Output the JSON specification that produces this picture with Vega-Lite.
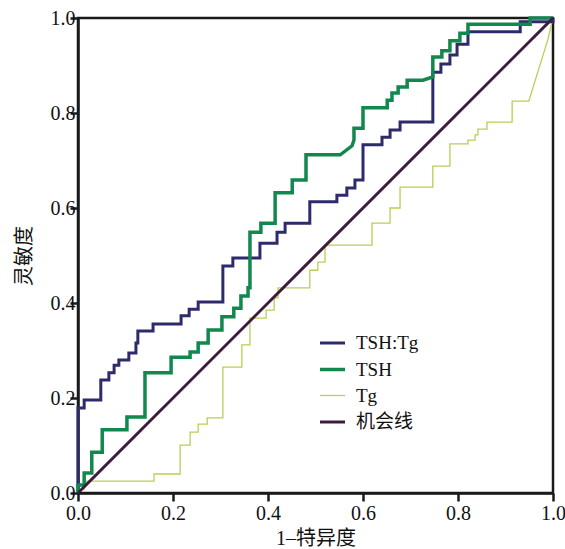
{
  "$schema": "https://vega.github.io/schema/vega-lite/v6.json",
  "width": 475,
  "height": 475,
  "autosize": {"type": "none"},
  "padding": {"left": 78, "top": 18, "right": 12, "bottom": 56},
  "background": "white",
  "config": {
    "view": {"stroke": "#1a1a1a", "strokeWidth": 2.5},
    "axis": {"grid": false, "domainColor": "#1a1a1a", "domainWidth": 2.5, "tickColor": "#1a1a1a", "tickWidth": 2.5, "tickSize": 8, "labelFlush": false, "labelFont": "Liberation Serif", "labelFontSize": 20, "labelColor": "#111", "titleFont": "Liberation Serif, Noto Sans CJK SC", "titleFontSize": 20, "titleFontWeight": "normal", "titleColor": "#111"}
  },
  "data": {"values": [
    {"s":"TSH:Tg","i":0,"x":0,"y":0},{"s":"TSH:Tg","i":1,"x":0,"y":0.179},{"s":"TSH:Tg","i":2,"x":0.013,"y":0.179},{"s":"TSH:Tg","i":3,"x":0.013,"y":0.196},{"s":"TSH:Tg","i":4,"x":0.048,"y":0.196},{"s":"TSH:Tg","i":5,"x":0.048,"y":0.238},{"s":"TSH:Tg","i":6,"x":0.065,"y":0.238},{"s":"TSH:Tg","i":7,"x":0.065,"y":0.253},{"s":"TSH:Tg","i":8,"x":0.076,"y":0.253},{"s":"TSH:Tg","i":9,"x":0.076,"y":0.269},{"s":"TSH:Tg","i":10,"x":0.086,"y":0.269},{"s":"TSH:Tg","i":11,"x":0.086,"y":0.28},{"s":"TSH:Tg","i":12,"x":0.107,"y":0.28},{"s":"TSH:Tg","i":13,"x":0.107,"y":0.295},{"s":"TSH:Tg","i":14,"x":0.122,"y":0.295},{"s":"TSH:Tg","i":15,"x":0.122,"y":0.316},{"s":"TSH:Tg","i":16,"x":0.126,"y":0.316},{"s":"TSH:Tg","i":17,"x":0.126,"y":0.341},{"s":"TSH:Tg","i":18,"x":0.158,"y":0.341},{"s":"TSH:Tg","i":19,"x":0.158,"y":0.356},{"s":"TSH:Tg","i":20,"x":0.217,"y":0.356},{"s":"TSH:Tg","i":21,"x":0.217,"y":0.373},{"s":"TSH:Tg","i":22,"x":0.234,"y":0.373},{"s":"TSH:Tg","i":23,"x":0.234,"y":0.387},{"s":"TSH:Tg","i":24,"x":0.253,"y":0.387},{"s":"TSH:Tg","i":25,"x":0.253,"y":0.402},{"s":"TSH:Tg","i":26,"x":0.305,"y":0.402},{"s":"TSH:Tg","i":27,"x":0.305,"y":0.478},{"s":"TSH:Tg","i":28,"x":0.326,"y":0.478},{"s":"TSH:Tg","i":29,"x":0.326,"y":0.495},{"s":"TSH:Tg","i":30,"x":0.383,"y":0.495},{"s":"TSH:Tg","i":31,"x":0.383,"y":0.526},{"s":"TSH:Tg","i":32,"x":0.419,"y":0.526},{"s":"TSH:Tg","i":33,"x":0.419,"y":0.549},{"s":"TSH:Tg","i":34,"x":0.436,"y":0.549},{"s":"TSH:Tg","i":35,"x":0.436,"y":0.568},{"s":"TSH:Tg","i":36,"x":0.488,"y":0.568},{"s":"TSH:Tg","i":37,"x":0.488,"y":0.613},{"s":"TSH:Tg","i":38,"x":0.545,"y":0.613},{"s":"TSH:Tg","i":39,"x":0.545,"y":0.627},{"s":"TSH:Tg","i":40,"x":0.566,"y":0.627},{"s":"TSH:Tg","i":41,"x":0.566,"y":0.642},{"s":"TSH:Tg","i":42,"x":0.583,"y":0.642},{"s":"TSH:Tg","i":43,"x":0.583,"y":0.659},{"s":"TSH:Tg","i":44,"x":0.6,"y":0.659},{"s":"TSH:Tg","i":45,"x":0.6,"y":0.733},{"s":"TSH:Tg","i":46,"x":0.64,"y":0.733},{"s":"TSH:Tg","i":47,"x":0.64,"y":0.749},{"s":"TSH:Tg","i":48,"x":0.657,"y":0.749},{"s":"TSH:Tg","i":49,"x":0.657,"y":0.764},{"s":"TSH:Tg","i":50,"x":0.678,"y":0.764},{"s":"TSH:Tg","i":51,"x":0.678,"y":0.781},{"s":"TSH:Tg","i":52,"x":0.747,"y":0.781},{"s":"TSH:Tg","i":53,"x":0.747,"y":0.886},{"s":"TSH:Tg","i":54,"x":0.764,"y":0.886},{"s":"TSH:Tg","i":55,"x":0.764,"y":0.903},{"s":"TSH:Tg","i":56,"x":0.783,"y":0.903},{"s":"TSH:Tg","i":57,"x":0.783,"y":0.922},{"s":"TSH:Tg","i":58,"x":0.798,"y":0.922},{"s":"TSH:Tg","i":59,"x":0.798,"y":0.945},{"s":"TSH:Tg","i":60,"x":0.821,"y":0.945},{"s":"TSH:Tg","i":61,"x":0.821,"y":0.971},{"s":"TSH:Tg","i":62,"x":0.931,"y":0.971},{"s":"TSH:Tg","i":63,"x":0.931,"y":0.992},{"s":"TSH:Tg","i":64,"x":1,"y":0.992},{"s":"TSH:Tg","i":65,"x":1,"y":1},
    {"s":"TSH","i":0,"x":0,"y":0},{"s":"TSH","i":1,"x":0,"y":0.017},{"s":"TSH","i":2,"x":0.013,"y":0.017},{"s":"TSH","i":3,"x":0.013,"y":0.042},{"s":"TSH","i":4,"x":0.029,"y":0.042},{"s":"TSH","i":5,"x":0.029,"y":0.086},{"s":"TSH","i":6,"x":0.051,"y":0.086},{"s":"TSH","i":7,"x":0.051,"y":0.133},{"s":"TSH","i":8,"x":0.103,"y":0.133},{"s":"TSH","i":9,"x":0.103,"y":0.16},{"s":"TSH","i":10,"x":0.141,"y":0.16},{"s":"TSH","i":11,"x":0.141,"y":0.253},{"s":"TSH","i":12,"x":0.196,"y":0.253},{"s":"TSH","i":13,"x":0.196,"y":0.286},{"s":"TSH","i":14,"x":0.236,"y":0.286},{"s":"TSH","i":15,"x":0.236,"y":0.297},{"s":"TSH","i":16,"x":0.253,"y":0.297},{"s":"TSH","i":17,"x":0.253,"y":0.316},{"s":"TSH","i":18,"x":0.274,"y":0.316},{"s":"TSH","i":19,"x":0.274,"y":0.343},{"s":"TSH","i":20,"x":0.303,"y":0.343},{"s":"TSH","i":21,"x":0.303,"y":0.371},{"s":"TSH","i":22,"x":0.328,"y":0.371},{"s":"TSH","i":23,"x":0.328,"y":0.389},{"s":"TSH","i":24,"x":0.343,"y":0.389},{"s":"TSH","i":25,"x":0.343,"y":0.415},{"s":"TSH","i":26,"x":0.358,"y":0.415},{"s":"TSH","i":27,"x":0.358,"y":0.432},{"s":"TSH","i":28,"x":0.362,"y":0.432},{"s":"TSH","i":29,"x":0.362,"y":0.549},{"s":"TSH","i":30,"x":0.385,"y":0.549},{"s":"TSH","i":31,"x":0.385,"y":0.568},{"s":"TSH","i":32,"x":0.415,"y":0.568},{"s":"TSH","i":33,"x":0.415,"y":0.632},{"s":"TSH","i":34,"x":0.451,"y":0.632},{"s":"TSH","i":35,"x":0.451,"y":0.659},{"s":"TSH","i":36,"x":0.48,"y":0.659},{"s":"TSH","i":37,"x":0.48,"y":0.712},{"s":"TSH","i":38,"x":0.552,"y":0.712},{"s":"TSH","i":39,"x":0.577,"y":0.731},{"s":"TSH","i":40,"x":0.581,"y":0.743},{"s":"TSH","i":41,"x":0.581,"y":0.768},{"s":"TSH","i":42,"x":0.6,"y":0.768},{"s":"TSH","i":43,"x":0.6,"y":0.811},{"s":"TSH","i":44,"x":0.651,"y":0.811},{"s":"TSH","i":45,"x":0.651,"y":0.827},{"s":"TSH","i":46,"x":0.661,"y":0.827},{"s":"TSH","i":47,"x":0.661,"y":0.842},{"s":"TSH","i":48,"x":0.674,"y":0.842},{"s":"TSH","i":49,"x":0.674,"y":0.855},{"s":"TSH","i":50,"x":0.693,"y":0.855},{"s":"TSH","i":51,"x":0.693,"y":0.869},{"s":"TSH","i":52,"x":0.726,"y":0.869},{"s":"TSH","i":53,"x":0.747,"y":0.876},{"s":"TSH","i":54,"x":0.747,"y":0.918},{"s":"TSH","i":55,"x":0.766,"y":0.918},{"s":"TSH","i":56,"x":0.766,"y":0.931},{"s":"TSH","i":57,"x":0.783,"y":0.931},{"s":"TSH","i":58,"x":0.783,"y":0.952},{"s":"TSH","i":59,"x":0.804,"y":0.952},{"s":"TSH","i":60,"x":0.804,"y":0.968},{"s":"TSH","i":61,"x":0.821,"y":0.968},{"s":"TSH","i":62,"x":0.821,"y":0.987},{"s":"TSH","i":63,"x":0.952,"y":0.987},{"s":"TSH","i":64,"x":0.952,"y":1},{"s":"TSH","i":65,"x":1,"y":1},
    {"s":"Tg","i":0,"x":0,"y":0},{"s":"Tg","i":1,"x":0,"y":0.008},{"s":"Tg","i":2,"x":0.013,"y":0.008},{"s":"Tg","i":3,"x":0.013,"y":0.025},{"s":"Tg","i":4,"x":0.16,"y":0.025},{"s":"Tg","i":5,"x":0.16,"y":0.04},{"s":"Tg","i":6,"x":0.215,"y":0.04},{"s":"Tg","i":7,"x":0.215,"y":0.101},{"s":"Tg","i":8,"x":0.236,"y":0.101},{"s":"Tg","i":9,"x":0.236,"y":0.128},{"s":"Tg","i":10,"x":0.253,"y":0.128},{"s":"Tg","i":11,"x":0.253,"y":0.145},{"s":"Tg","i":12,"x":0.272,"y":0.145},{"s":"Tg","i":13,"x":0.272,"y":0.158},{"s":"Tg","i":14,"x":0.305,"y":0.158},{"s":"Tg","i":15,"x":0.305,"y":0.265},{"s":"Tg","i":16,"x":0.345,"y":0.265},{"s":"Tg","i":17,"x":0.345,"y":0.312},{"s":"Tg","i":18,"x":0.362,"y":0.312},{"s":"Tg","i":19,"x":0.362,"y":0.368},{"s":"Tg","i":20,"x":0.396,"y":0.368},{"s":"Tg","i":21,"x":0.396,"y":0.385},{"s":"Tg","i":22,"x":0.413,"y":0.385},{"s":"Tg","i":23,"x":0.413,"y":0.411},{"s":"Tg","i":24,"x":0.421,"y":0.411},{"s":"Tg","i":25,"x":0.421,"y":0.432},{"s":"Tg","i":26,"x":0.488,"y":0.432},{"s":"Tg","i":27,"x":0.488,"y":0.469},{"s":"Tg","i":28,"x":0.505,"y":0.469},{"s":"Tg","i":29,"x":0.505,"y":0.486},{"s":"Tg","i":30,"x":0.52,"y":0.486},{"s":"Tg","i":31,"x":0.52,"y":0.522},{"s":"Tg","i":32,"x":0.619,"y":0.522},{"s":"Tg","i":33,"x":0.619,"y":0.568},{"s":"Tg","i":34,"x":0.657,"y":0.568},{"s":"Tg","i":35,"x":0.657,"y":0.6},{"s":"Tg","i":36,"x":0.678,"y":0.6},{"s":"Tg","i":37,"x":0.678,"y":0.644},{"s":"Tg","i":38,"x":0.747,"y":0.644},{"s":"Tg","i":39,"x":0.747,"y":0.688},{"s":"Tg","i":40,"x":0.783,"y":0.688},{"s":"Tg","i":41,"x":0.783,"y":0.735},{"s":"Tg","i":42,"x":0.821,"y":0.735},{"s":"Tg","i":43,"x":0.821,"y":0.743},{"s":"Tg","i":44,"x":0.836,"y":0.743},{"s":"Tg","i":45,"x":0.836,"y":0.754},{"s":"Tg","i":46,"x":0.842,"y":0.754},{"s":"Tg","i":47,"x":0.842,"y":0.766},{"s":"Tg","i":48,"x":0.861,"y":0.766},{"s":"Tg","i":49,"x":0.861,"y":0.781},{"s":"Tg","i":50,"x":0.914,"y":0.781},{"s":"Tg","i":51,"x":0.914,"y":0.825},{"s":"Tg","i":52,"x":0.949,"y":0.825},{"s":"Tg","i":53,"x":0.989,"y":0.954},{"s":"Tg","i":54,"x":1,"y":1},
    {"s":"机会线","i":0,"x":0,"y":0},{"s":"机会线","i":1,"x":1,"y":1}
  ]},
  "encoding": {
    "x": {"field": "x", "type": "quantitative", "scale": {"domain": [0, 1], "nice": false}, "axis": {"values": [0, 0.2, 0.4, 0.6, 0.8, 1], "format": ".1f", "labelPadding": 2, "title": "1–特异度", "titlePadding": 5, "encode": {"ticks": {"update": {"y2": {"value": -8}}}}}},
    "y": {"field": "y", "type": "quantitative", "scale": {"domain": [0, 1], "nice": false}, "axis": {"values": [0, 0.2, 0.4, 0.6, 0.8, 1], "format": ".1f", "labelPadding": -5, "title": "灵敏度", "titlePadding": 16, "encode": {"ticks": {"update": {"x2": {"value": 8}}}}}},
    "order": {"field": "i", "type": "quantitative"},
    "color": {"field": "s", "type": "nominal", "scale": {"domain": ["TSH:Tg", "TSH", "Tg", "机会线"], "range": ["#2d2b6b", "#12884f", "#bccd55", "#3c1c3c"]}, "legend": {"orient": "none", "legendX": 240, "legendY": 311, "title": null, "symbolType": "stroke", "symbolSize": 625, "labelFont": "Liberation Serif, Noto Sans CJK SC", "labelFontSize": 19, "labelColor": "#111", "labelOffset": 9, "rowPadding": 2}},
    "strokeWidth": {"field": "s", "type": "nominal", "scale": {"type": "ordinal", "domain": ["TSH:Tg", "TSH", "Tg", "机会线"], "range": [3, 3.5, 1.3, 3]}, "legend": {"orient": "none", "legendX": 240, "legendY": 311, "title": null, "symbolType": "stroke", "symbolSize": 625, "labelFont": "Liberation Serif, Noto Sans CJK SC", "labelFontSize": 19, "labelColor": "#111", "labelOffset": 9, "rowPadding": 2}}
  },
  "layer": [
    {"transform": [{"filter": "datum.s === 'Tg'"}], "mark": {"type": "line"}},
    {"transform": [{"filter": "datum.s === 'TSH:Tg'"}], "mark": {"type": "line"}},
    {"transform": [{"filter": "datum.s === 'TSH'"}], "mark": {"type": "line"}},
    {"transform": [{"filter": "datum.s === '机会线'"}], "mark": {"type": "line"}}
  ]
}
